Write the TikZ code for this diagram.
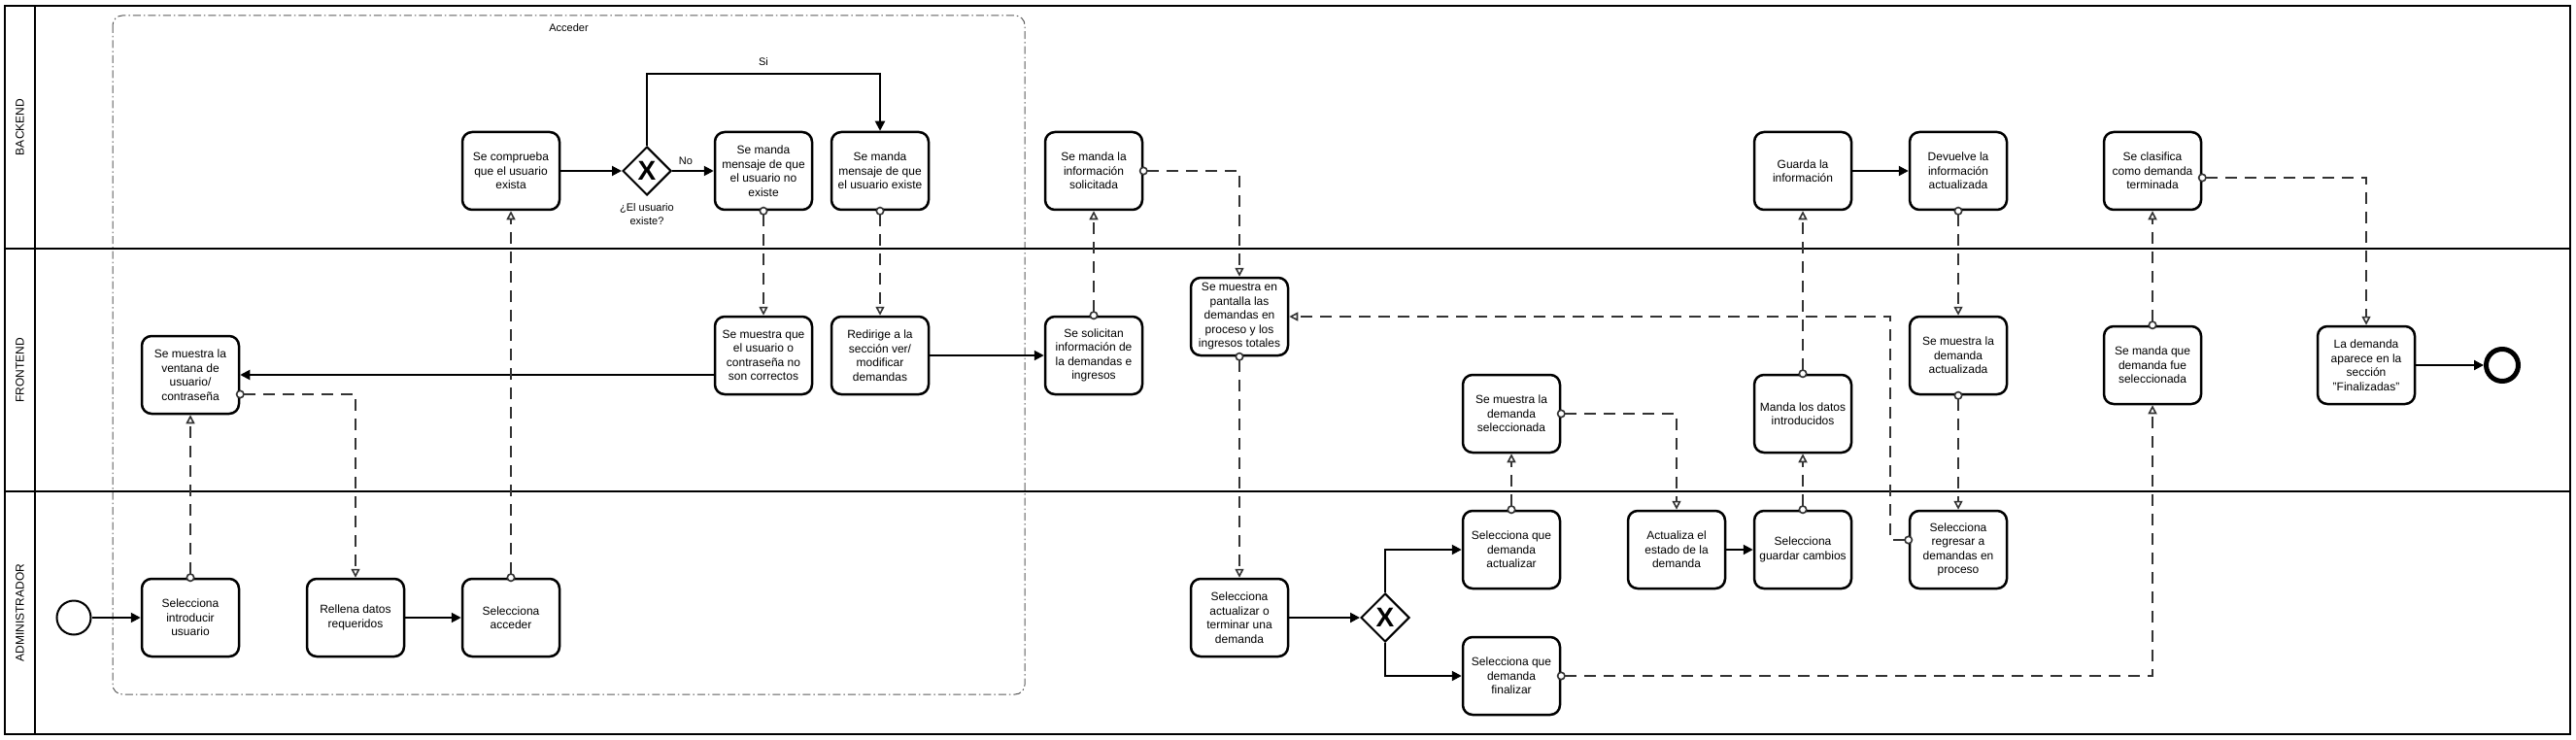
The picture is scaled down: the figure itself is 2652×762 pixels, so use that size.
\documentclass[tikz,border=0pt]{standalone}
\usepackage{fontspec}
\setmainfont{Liberation Sans}
\usetikzlibrary{arrows.meta,shapes.geometric,calc}
\tikzset{
  task/.style={draw, line width=2.5pt, rounded corners=10pt, minimum width=100pt, minimum height=80pt,
    inner sep=0pt, align=center, fill=white, font=\fontsize{12}{14.5}\selectfont},
  gateway/.style={draw, diamond, line width=2pt, minimum width=50pt, minimum height=50pt, inner sep=0pt,
    fill=white, font=\fontsize{28}{28}\selectfont\bfseries},
  startev/.style={draw, circle, line width=2pt, minimum size=35pt, inner sep=0pt, fill=white},
  endev/.style={draw, circle, line width=5pt, minimum size=33pt, inner sep=0pt, fill=white},
  lane/.style={draw, line width=2pt},
  lanelabel/.style={rotate=90, font=\fontsize{12}{14}\selectfont},
  smalllbl/.style={align=center, font=\fontsize{11}{14}\selectfont},
  groupline/.style={draw=black!65, line width=1pt, rounded corners=10pt, dash pattern=on 8pt off 3pt on 1.5pt off 3pt},
  seq/.style={draw, line width=2pt, -{Triangle[length=10pt,width=10pt]}},
  msg/.style={draw=black!80, line width=1.6pt, dash pattern=on 12pt off 8pt, shorten <=-4.5pt,
    {Circle[open,fill=white,length=9pt,width=9pt]}-{Triangle[open,fill=white,length=9pt,width=9pt]}}
}
\begin{document}
\begin{tikzpicture}[x=1pt,y=-1pt]
\useasboundingbox (0,0) rectangle (2652,762);
% group
\draw[groupline] (116,16) rectangle (1055,715);
\node[smalllbl] (acclbl) at (585.5,29) {Acceder};
% lanes
\draw[lane] (5,6) rectangle (2646,756);
\draw[lane] (36,6) -- (36,756);
\draw[lane] (5,256) -- (2646,256);
\draw[lane] (5,506) -- (2646,506);
\node[lanelabel] (lb1) at (20.5,131) {BACKEND};
\node[lanelabel] (lb2) at (20.5,381) {FRONTEND};
\node[lanelabel] (lb3) at (20.5,631) {ADMINISTRADOR};

% BACKEND
\node[task] (comprueba) at (526,176) {Se comprueba\\que el usuario\\exista};
\node[gateway] (g1) at (666,176) {X};
\node[smalllbl] (g1lbl) at (666,221) {¿El usuario\\existe?};
\node[task] (noexiste) at (786,176) {Se manda\\mensaje de que\\el usuario no\\existe};
\node[task] (existe) at (906,176) {Se manda\\mensaje de que\\el usuario existe};
\node[task] (mandainfo) at (1126,176) {Se manda la\\información\\solicitada};
\node[task] (guarda) at (1856,176) {Guarda la\\información};
\node[task] (devuelve) at (2016,176) {Devuelve la\\información\\actualizada};
\node[task] (clasifica) at (2216,176) {Se clasifica\\como demanda\\terminada};

% FRONTEND
\node[task] (ventana) at (196,386) {Se muestra la\\ventana de\\usuario/\\contraseña};
\node[task] (muestraque) at (786,366) {Se muestra que\\el usuario o\\contraseña no\\son correctos};
\node[task] (redirige) at (906,366) {Redirige a la\\sección ver/\\modificar\\demandas};
\node[task] (solicitan) at (1126,366) {Se solicitan\\información de\\la demandas e\\ingresos};
\node[task] (pantalla) at (1276,326) {Se muestra en\\pantalla las\\demandas en\\proceso y los\\ingresos totales};
\node[task] (seleccionada) at (1556,426) {Se muestra la\\demanda\\seleccionada};
\node[task] (mandadatos) at (1856,426) {Manda los datos\\introducidos};
\node[task] (actualizada) at (2016,366) {Se muestra la\\demanda\\actualizada};
\node[task] (mandaque) at (2216,376) {Se manda que\\demanda fue\\seleccionada};
\node[task] (aparece) at (2436,376) {La demanda\\aparece en la\\sección\\"Finalizadas"};
\node[endev] (endevt) at (2576,376) {};

% ADMINISTRADOR
\node[startev] (startevt) at (76,636) {};
\node[task] (introducir) at (196,636) {Selecciona\\introducir\\usuario};
\node[task] (rellena) at (366,636) {Rellena datos\\requeridos};
\node[task] (acceder) at (526,636) {Selecciona\\acceder};
\node[task] (actterm) at (1276,636) {Selecciona\\actualizar o\\terminar una\\demanda};
\node[gateway] (g2) at (1426,636) {X};
\node[task] (selact) at (1556,566) {Selecciona que\\demanda\\actualizar};
\node[task] (selfin) at (1556,696) {Selecciona que\\demanda\\finalizar};
\node[task] (actualiza) at (1726,566) {Actualiza el\\estado de la\\demanda};
\node[task] (guardar) at (1856,566) {Selecciona\\guardar cambios};
\node[task] (regresar) at (2016,566) {Selecciona\\regresar a\\demandas en\\proceso};

% sequence flows
\draw[seq] (startevt) -- (introducir);
\draw[seq] (rellena) -- (acceder);
\draw[seq] (comprueba) -- (g1);
\draw[seq] (g1) -- (noexiste);
\node[smalllbl] (nolbl) at (706,166) {No};
\coordinate (sitop) at (666,76);
\draw[seq] (g1.north) -- (sitop) -| (existe.north);
\node[smalllbl] (silbl) at (786,64) {Si};
\draw[seq] ([yshift=-20pt]muestraque.west) -- (ventana.east);
\draw[seq] (redirige) -- (solicitan);
\draw[seq] (actterm) -- (g2);
\draw[seq] (g2.north) |- (selact.west);
\draw[seq] (g2.south) |- (selfin.west);
\draw[seq] (actualiza) -- (guardar);
\draw[seq] (guarda) -- (devuelve);
\draw[seq] (aparece) -- (endevt);

% message flows
\draw[msg] (introducir.north) -- (ventana.south);
\draw[msg] ([yshift=-20pt]ventana.east) -| (rellena.north);
\draw[msg] (acceder.north) -- (comprueba.south);
\draw[msg] (noexiste.south) -- (muestraque.north);
\draw[msg] (existe.south) -- (redirige.north);
\draw[msg] (solicitan.north) -- (mandainfo.south);
\draw[msg] (mandainfo.east) -| (pantalla.north);
\draw[msg] (pantalla.south) -- (actterm.north);
\draw[msg] (selact.north) -- (seleccionada.south);
\draw[msg] (seleccionada.east) -| (actualiza.north);
\draw[msg] (guardar.north) -- (mandadatos.south);
\draw[msg] (mandadatos.north) -- (guarda.south);
\draw[msg] (devuelve.south) -- (actualizada.north);
\draw[msg] (actualizada.south) -- (regresar.north);
\coordinate (rx) at (1946,556);
\draw[msg] ([yshift=10pt]regresar.west) -- (rx) |- (pantalla.east);
\draw[msg] (selfin.east) -| (mandaque.south);
\draw[msg] (mandaque.north) -- (clasifica.south);
\draw[msg] ([yshift=-7pt]clasifica.east) -| (aparece.north);
\end{tikzpicture}
\end{document}
